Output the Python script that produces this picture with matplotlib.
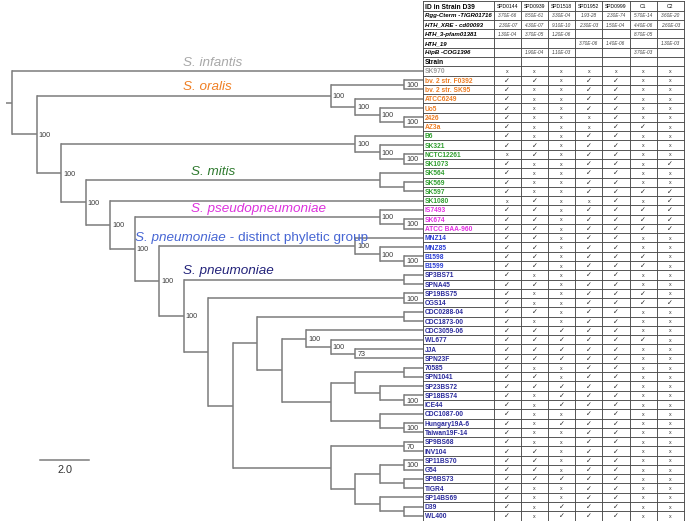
import matplotlib
matplotlib.use("Agg")
import matplotlib.pyplot as plt

plt.rcParams['font.family'] = ['Liberation Sans', 'DejaVu Sans']

genes = ['SPD0144', 'SPD0939', 'SPD1518', 'SPD1952', 'SPD0999', 'C1', 'C2']
domains = ['Rgg-Cterm -TIGR01716', 'HTH_XRE - cd00093', 'HTH_3-pfam01381',
           'HTH_19', 'HipB -COG1396']
evalues = [
    ['3.70E-66', '8.50E-61', '3.30E-04', '1.93-28', '2.30E-74', '5.70E-14', '3.60E-20'],
    ['2.30E-07', '4.30E-07', '9.10E-10', '2.30E-03', '1.50E-04', '4.40E-06', '2.60E-03'],
    ['1.30E-04', '3.70E-05', '1.20E-06', '', '', '8.70E-05', ''],
    ['', '', '', '3.70E-06', '1.40E-06', '', '1.30E-03'],
    ['', '1.90E-04', '1.10E-03', '', '', '3.70E-03', ''],
]

strains = ['SK970', 'bv. 2 str. F0392', 'bv. 2 str. SK95', 'ATCC6249', 'Uo5', '2426', 'AZ3a',
           'B6', 'SK321', 'NCTC12261', 'SK1073', 'SK564', 'SK569', 'SK597', 'SK1080',
           'IS7493', 'SK674', 'ATCC BAA-960', 'MNZ14', 'MNZ85', 'B1598', 'B1599',
           'SP3BS71', 'SPNA45', 'SP19BS75', 'CGS14', 'CDC0288-04', 'CDC1873-00', 'CDC3059-06',
           'WL677', 'JJA', 'SPN23F', '70585', 'SPN1041', 'SP23BS72', 'SP18BS74', 'ICE44',
           'CDC1087-00', 'Hungary19A-6', 'Taiwan19F-14', 'SP9BS68', 'INV104', 'SP11BS70',
           'G54', 'SP6BS73', 'TIGR4', 'SP14BS69', 'D39', 'WL400']
groups = (['inf'] + ['ora'] * 6 + ['mit'] * 8 + ['pse'] * 3 + ['dis'] * 4 + ['pne'] * 27)

# 1 = present (check), 0 = absent (x), columns as in genes
presence = ['0000000', '1101100', '1001100', '1001100', '1001100', '1000100', '1000110',
            '1001100', '1101100', '0101100', '1001101', '1001100', '1001100', '1001111',
            '0100101', '1101111', '1101111', '1101111', '1101100', '1101100', '1101110',
            '1101110', '1001100', '1101100', '1001110', '1001111', '1101100', '1001100',
            '1111100', '1111110', '1111100', '1111100', '1001100', '1101100', '1111100',
            '1011100', '1011100', '1001100', '1011100', '1001100', '1001100', '1101100',
            '1101100', '1101100', '1111100', '1001100', '1001100', '1011100', '1011100']

# tree: (branch length, bootstrap, children); leaves are strain names
tree = (0.25, '', ['SK970',
  (1, '100', [
    (12, '100', [(3, '100', ['bv. 2 str. F0392', 'bv. 2 str. SK95']),
                 (1, '100', ['ATCC6249', (1, '100', ['Uo5', (1, '100', ['2426', 'AZ3a'])])])]),
    (1, '100', [
      (12, '100', ['B6', (1, '100', ['SK321', (1, '100', ['NCTC12261', 'SK1073'])])]),
      (1, '100', [
        (12, '', ['SK564', (1, '', ['SK569', 'SK597'])]),
        (1, '100', ['SK1080',
          (1, '100', [
            (10, '100', ['IS7493', (1, '100', ['SK674', 'ATCC BAA-960'])]),
            (1, '100', [
              (8, '100', ['MNZ14', (1, '100', ['MNZ85', (1, '100', ['B1598', 'B1599'])])]),
              (1, '100', [
                (9, '', ['SP3BS71', 'SPNA45']),
                (1, '', [
                  (8, '100', ['SP19BS75', 'CGS14']),
                  (1, '', [
                    (1, '', [
                      (6, '', ['CDC0288-04', 'CDC1873-00']),
                      (1, '', [
                        (1, '100', ['CDC3059-06', (1, '100', ['WL677', (1, '73', ['JJA', 'SPN23F'])])]),
                        (2, '', [
                          (1, '', [(2, '', ['70585', 'SPN1041']),
                                   (1, '', ['SP23BS72', (1, '100', ['SP18BS74', 'ICE44'])])]),
                          (2, '', ['CDC1087-00', (1, '100', ['Hungary19A-6', 'Taiwan19F-14'])]),
                        ]),
                      ]),
                    ]),
                    (4, '', [
                      (3, '70', ['SP9BS68', 'INV104']),
                      (1, '', [
                        (1, '', [(1, '100', ['SP11BS70', 'G54']), (1, '', ['SP6BS73', 'TIGR4'])]),
                        (1, '', ['SP14BS69', (1, '', ['D39', 'WL400'])]),
                      ]),
                    ]),
                  ]),
                ]),
              ]),
            ]),
          ]),
        ]),
      ]),
    ]),
  ]),
])

clades = [('S. infantis', ('SK970', 'SK970'), 7.22),
          ('S. oralis', ('bv. 2 str. F0392', 'AZ3a'), 7.22),
          ('S. mitis', ('SK564', 'SK597'), 7.55),
          ('S. pseudopneumoniae', ('IS7493', 'ATCC BAA-960'), 7.55),
          ('S. pneumoniae', ('MNZ14', 'B1599'), 5.27),
          ('S. pneumoniae', ('SP3BS71', 'SPNA45'), 7.22)]

strain_colors = {'inf': '#9c9c9c', 'ora': '#ee7d22', 'mit': '#2f9e2f',
                 'pse': '#e22ee2', 'dis': '#2c3fd4', 'pne': '#2a2a9c'}
clade_colors = ['#a8a8a8', '#ef7f24', '#2f7a2f', '#dd33dd', '#4766d4', '#23237a']

n_head = 7
tip = 17.0
line_col = '#7c7c7c'

fig = plt.figure(figsize=(6.85, 5.21), dpi=100)
ax = fig.add_axes([0, 0, 423 / 685, 1])
tab = fig.add_axes([423 / 685, 0, 262 / 685, 1])
ylim = (55.55, -0.65)
ax.set_xlim(-6 / 24.5, 417 / 24.5)
ax.set_ylim(*ylim)
tab.set_xlim(-2.6, 7.04)
tab.set_ylim(*ylim)
ax.axis('off')
tab.axis('off')

node_y = {}


def leaves(node):
    if isinstance(node, str):
        return [node]
    out = []
    for k in node[2]:
        out += leaves(k)
    return out


def draw(node, x_parent):
    if isinstance(node, str):
        y = strains.index(node) + n_head
        ax.plot([x_parent, tip], [y, y], color=line_col, lw=1.1, solid_capstyle='butt')
        return y
    length, support, kids = node
    x = x_parent + length
    ys = [draw(k, x) for k in kids]
    y = (min(ys) + max(ys)) / 2
    ax.plot([x, x], [min(ys), max(ys)], color=line_col, lw=1.1, solid_capstyle='projecting')
    ax.plot([x_parent, x], [y, y], color=line_col, lw=1.1, solid_capstyle='butt')
    if support:
        ax.text(x + 0.09, y, support, fontsize=5.2, color='#3a3a3a', ha='left',
                va='center_baseline', clip_on=True)
    lv = leaves(node)
    node_y[(lv[0], lv[-1])] = y
    return y


draw(tree, 0.0)
node_y[('SK970', 'SK970')] = strains.index('SK970') + n_head

for (name, key, xl), col in zip(clades, clade_colors):
    y = node_y[key] - 0.9
    t = ax.text(xl, y, name, fontsize=9.7, style='italic', color=col, ha='left', va='center')
    if key[0] == 'MNZ14':
        ax.annotate(' - distinct phyletic group', xy=(1, 0), xycoords=t, fontsize=9.7,
                    color=col, ha='left', va='bottom')

# scale bar
ax.plot([1.39, 1.39 + 2.0], [49.0, 49.0], color=line_col, lw=1.1)
ax.text(1.39 + 1.0, 50.0, '2.0', fontsize=7.8, color='#333333', ha='center', va='center')

# table grid
n_rows = n_head + len(strains)
grid_col = '#4a4a4a'
for r in range(n_rows + 1):
    tab.plot([-2.6, 7], [r - 0.5, r - 0.5], color=grid_col, lw=0.65)
for c in [-2.6] + list(range(len(genes) + 1)):
    tab.plot([c, c], [-0.5, n_rows - 0.5], color=grid_col, lw=0.65)

xl = -2.53
vb = 'center_baseline'
tab.text(xl, 0, 'ID in Strain D39', fontsize=4.8, weight='bold', ha='left', va=vb)
for j, g in enumerate(genes):
    tab.text(j + 0.5, 0, g, fontsize=3.6, ha='center', va=vb)
for i, d in enumerate(domains):
    tab.text(xl, i + 1, d, fontsize=4.4, weight='bold', style='italic', ha='left', va=vb)
    for j, v in enumerate(evalues[i]):
        if v:
            tab.text(j + 0.5, i + 1, v, fontsize=3.4, style='italic', color='#444444',
                     ha='center', va=vb)
tab.text(xl, 6, 'Strain', fontsize=4.8, weight='bold', ha='left', va=vb)

for i, (s, g, p) in enumerate(zip(strains, groups, presence)):
    r = i + n_head
    tab.text(xl, r, s, fontsize=4.8, weight='bold', color=strain_colors[g], ha='left', va=vb)
    for j, flag in enumerate(p):
        if flag == '1':
            tab.text(j + 0.5, r, '\u2713', fontsize=5, color='#222222', ha='center', va=vb,
                     family=['DejaVu Sans'])
        else:
            tab.text(j + 0.5, r, 'x', fontsize=3.8, color='#333333', ha='center', va=vb)

fig.savefig('out.png', dpi=100)
